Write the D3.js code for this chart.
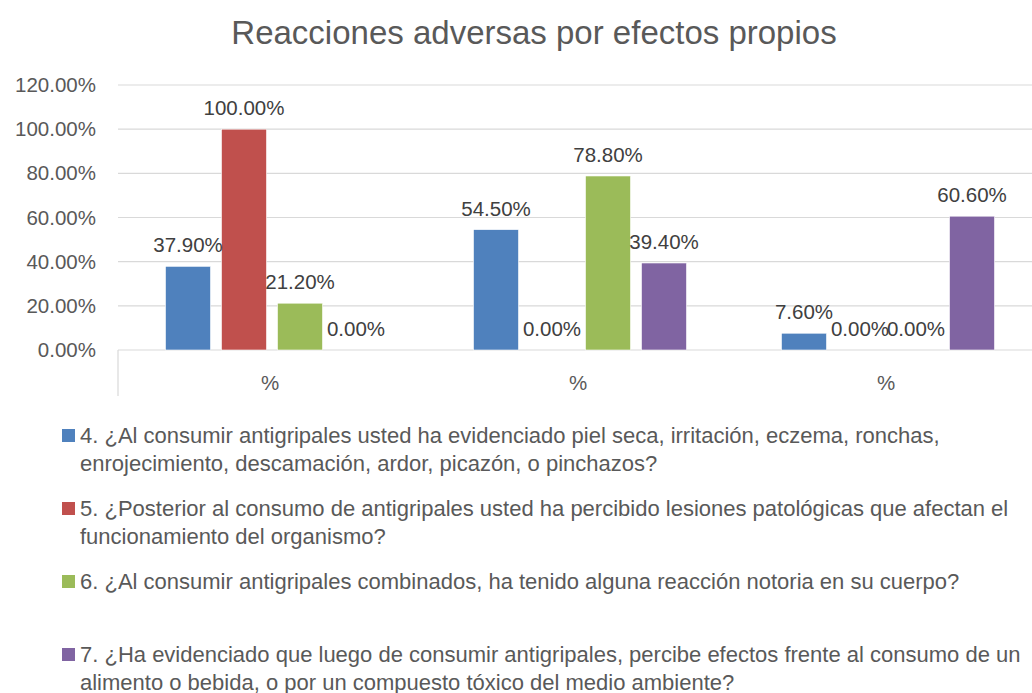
<!DOCTYPE html>
<html>
<head>
<meta charset="utf-8">
<script src="https://cdn.jsdelivr.net/npm/d3@7"></script>
<style>
  body { margin: 0; background: #fff; }
  text { font-family: "Liberation Sans", "DejaVu Sans", sans-serif; }
</style>
</head>
<body>
<div id="chart"></div>
<script>
// data
var title = "Reacciones adversas por efectos propios";
var groups = ["g1", "g2", "g3"];
var groupLabels = ["%", "%", "%"];
// legend lines as they wrap in the picture
var legendLines = [
  ["4. ¿Al consumir antigripales usted ha evidenciado piel seca, irritación, eczema, ronchas,", "enrojecimiento, descamación,  ardor, picazón, o pinchazos?"],
  ["5. ¿Posterior al consumo de antigripales usted ha percibido lesiones patológicas que afectan el", "funcionamiento del organismo?"],
  ["6. ¿Al consumir antigripales combinados, ha tenido alguna reacción notoria en su cuerpo?"],
  ["7. ¿Ha evidenciado que luego de consumir antigripales, percibe efectos frente al consumo de un", "alimento o bebida, o por un compuesto tóxico del medio ambiente?"]
];
var s4 = [0.379, 0.545, 0.076];
var s5 = [1.000, 0.000, 0.000];
var s6 = [0.212, 0.788, 0.000];
var s7 = [0.000, 0.394, 0.606];
var yTicks = [0, 0.2, 0.4, 0.6, 0.8, 1.0, 1.2];
var colors = ["#4F81BD", "#C0504D", "#9BBB59", "#8064A2"];

var series = [s4, s5, s6, s7];

var w = 1032, h = 693;
var margin = {top: 85, left: 118, bottom: 350};
var plotRight = 1042;

var svg = d3.select("#chart").append("svg")
    .attr("width", w)
    .attr("height", h);

svg.append("text")
    .attr("x", 534)
    .attr("y", 44)
    .attr("text-anchor", "middle")
    .style("font-size", "33px")
    .style("fill", "#595959")
    .text(title);

var y = d3.scaleLinear().domain([0, 1.2]).range([margin.bottom, margin.top]);
var x0 = d3.scaleBand().domain(groups).range([margin.left, plotRight]).padding(0);
var x1 = d3.scaleBand().domain(d3.range(series.length))
    .range([0, x0.bandwidth()])
    .paddingInner(0.196)
    .paddingOuter(0.848);

var fmt = function(v) { return (v * 100).toFixed(2) + "%"; };

// gridlines
svg.append("g")
    .selectAll("line")
    .data(yTicks)
    .enter().append("line")
    .attr("x1", margin.left)
    .attr("x2", plotRight)
    .attr("y1", function(d) { return y(d); })
    .attr("y2", function(d) { return y(d); })
    .style("stroke", "#d9d9d9")
    .style("stroke-width", 1.2);

// y labels
svg.append("g")
    .selectAll("text")
    .data(yTicks)
    .enter().append("text")
    .attr("x", 96)
    .attr("y", function(d) { return y(d) + 7; })
    .attr("text-anchor", "end")
    .style("font-size", "20.5px")
    .style("fill", "#595959")
    .text(fmt);

// left category tick
svg.append("line")
    .attr("x1", margin.left).attr("x2", margin.left)
    .attr("y1", y(0)).attr("y2", 396)
    .style("stroke", "#d9d9d9")
    .style("stroke-width", 1.2);

// category labels
svg.append("g")
    .selectAll("text")
    .data(groups)
    .enter().append("text")
    .attr("x", function(d) { return x0(d) + x0.bandwidth() / 2 - 2; })
    .attr("y", 390)
    .attr("text-anchor", "middle")
    .style("font-size", "20.5px")
    .style("fill", "#595959")
    .text(function(d, i) { return groupLabels[i]; });

// bars
var flat = [];
series.forEach(function(s, si) {
  s.forEach(function(v, gi) { flat.push({s: si, g: groups[gi], v: v}); });
});

svg.append("g")
    .selectAll("rect")
    .data(flat)
    .enter().append("rect")
    .attr("x", function(d) { return x0(d.g) + x1(d.s); })
    .attr("width", x1.bandwidth())
    .attr("y", function(d) { return y(d.v); })
    .attr("height", function(d) { return y(0) - y(d.v); })
    .style("fill", function(d) { return colors[d.s]; })
    .style("stroke", "#fff")
    .style("stroke-width", 0.6);

svg.append("g")
    .selectAll("text")
    .data(flat)
    .enter().append("text")
    .attr("x", function(d) { return x0(d.g) + x1(d.s) + x1.bandwidth() / 2; })
    .attr("y", function(d) { return y(d.v) - 14; })
    .attr("text-anchor", "middle")
    .style("font-size", "20.5px")
    .style("fill", "#404040")
    .text(function(d) { return fmt(d.v); });

// legend
var legendY = [443, 516, 589, 662];
var leg = svg.append("g");
legendLines.forEach(function(lines, i) {
  leg.append("rect")
      .attr("x", 62).attr("y", legendY[i] - 14)
      .attr("width", 13).attr("height", 13)
      .style("fill", colors[i]);
  lines.forEach(function(line, j) {
    leg.append("text")
        .attr("x", 80)
        .attr("y", legendY[i] + j * 28)
        .style("font-size", "22px")
        .style("fill", "#595959")
        .text(line);
  });
});
</script>
</body>
</html>
